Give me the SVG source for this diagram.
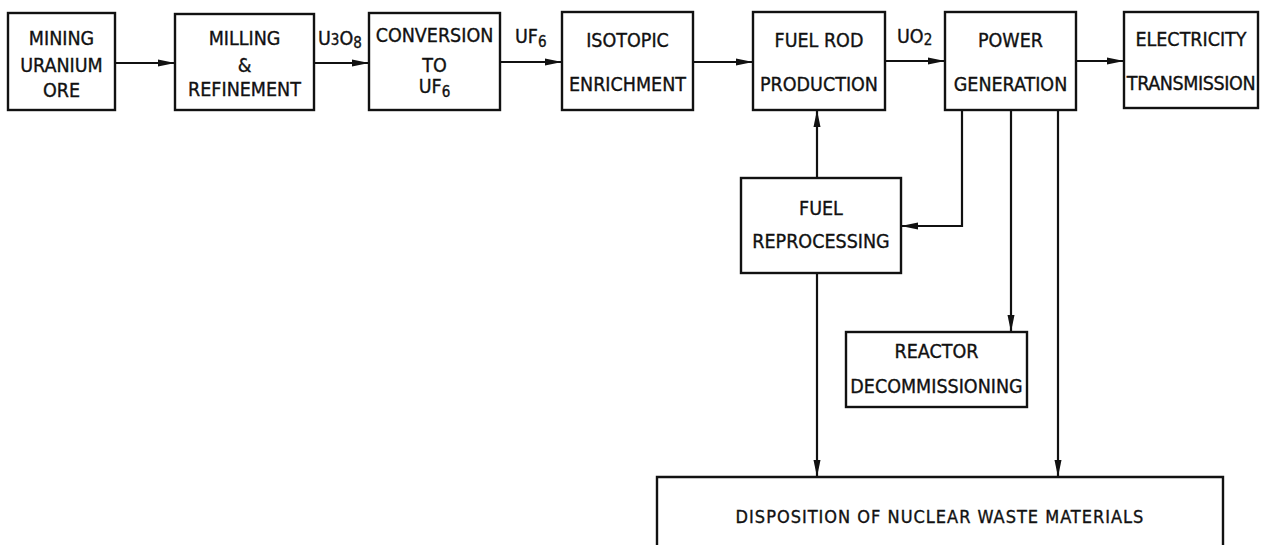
<svg xmlns="http://www.w3.org/2000/svg" width="1264" height="545" viewBox="0 0 1264 545">
<defs>
<marker id="ah" markerUnits="userSpaceOnUse" markerWidth="18" markerHeight="9" refX="17" refY="4.5" orient="auto">
<path d="M0,1 L17,4.5 L0,8 z" fill="#111"/>
</marker>
<style>
.box{fill:#fff;stroke:#111;stroke-width:2.4}
.t{font-family:"DejaVu Sans Condensed","DejaVu Sans",sans-serif;font-stretch:condensed;font-size:19.5px;fill:#111;stroke:#111;stroke-width:0.35;text-anchor:middle}
.l{font-family:"DejaVu Sans Condensed","DejaVu Sans",sans-serif;font-stretch:condensed;font-size:19.5px;fill:#111;stroke:#111;stroke-width:0.35}
.c{fill:none;stroke:#111;stroke-width:2.2}
.s{font-size:15px}
</style>
</defs>
<rect width="1264" height="545" fill="#fff"/>
<g id="connectors">
<path class="c" d="M115,63 H175" marker-end="url(#ah)"/>
<path class="c" d="M314,63 H369" marker-end="url(#ah)"/>
<path class="c" d="M500,62 H562" marker-end="url(#ah)"/>
<path class="c" d="M693,62 H753" marker-end="url(#ah)"/>
<path class="c" d="M885,61 H945" marker-end="url(#ah)"/>
<path class="c" d="M1076,61 H1124" marker-end="url(#ah)"/>
<path class="c" d="M817,178 V110" marker-end="url(#ah)"/>
<path class="c" d="M962,110 V226 H901" marker-end="url(#ah)"/>
<path class="c" d="M1011,110 V332" marker-end="url(#ah)"/>
<path class="c" d="M1058,110 V477" marker-end="url(#ah)"/>
<path class="c" d="M817,273 V477" marker-end="url(#ah)"/>
<text class="l" x="318" y="45">U<tspan class="s">3</tspan>O<tspan class="s" dy="3">8</tspan></text>
<text class="l" x="515" y="43">UF<tspan class="s" dy="4">6</tspan></text>
<text class="l" x="897" y="43">UO<tspan class="s" dy="2">2</tspan></text>
</g>
<g id="mining">
<rect class="box" x="8" y="13" width="107" height="97"/>
<text class="t" x="61.5" y="45">MINING</text>
<text class="t" x="61.5" y="72">URANIUM</text>
<text class="t" x="61.5" y="97">ORE</text>
</g>
<g id="milling">
<rect class="box" x="175" y="14" width="139" height="96"/>
<text class="t" x="244.5" y="45">MILLING</text>
<text class="t" x="244.5" y="72">&amp;</text>
<text class="t" x="244.5" y="96">REFINEMENT</text>
</g>
<g id="conversion">
<rect class="box" x="369" y="13" width="131" height="97"/>
<text class="t" x="434.5" y="42">CONVERSION</text>
<text class="t" x="434.5" y="72">TO</text>
<text class="t" x="434.5" y="93">UF<tspan class="s" dy="4">6</tspan></text>
</g>
<g id="enrichment">
<rect class="box" x="562" y="12" width="131" height="98"/>
<text class="t" x="627.5" y="47">ISOTOPIC</text>
<text class="t" x="627.5" y="91">ENRICHMENT</text>
</g>
<g id="fuelrod">
<rect class="box" x="753" y="12" width="132" height="98"/>
<text class="t" x="819" y="47">FUEL ROD</text>
<text class="t" x="819" y="91">PRODUCTION</text>
</g>
<g id="power">
<rect class="box" x="945" y="12" width="131" height="98"/>
<text class="t" x="1010.5" y="47">POWER</text>
<text class="t" x="1010.5" y="91">GENERATION</text>
</g>
<g id="electricity">
<rect class="box" x="1124" y="12" width="134" height="96"/>
<text class="t" x="1191" y="46">ELECTRICITY</text>
<text class="t" x="1191" y="90" style="letter-spacing:-0.4px">TRANSMISSION</text>
</g>
<g id="reprocessing">
<rect class="box" x="741" y="178" width="160" height="95"/>
<text class="t" x="821" y="215">FUEL</text>
<text class="t" x="821" y="248">REPROCESSING</text>
</g>
<g id="decommissioning">
<rect class="box" x="846" y="332" width="181" height="75"/>
<text class="t" x="936.5" y="358">REACTOR</text>
<text class="t" x="936.5" y="393">DECOMMISSIONING</text>
</g>
<g id="disposition">
<path class="box" d="M657,560 V477 H1223 V560"/>
<text class="t" x="940" y="523" style="font-size:18px;letter-spacing:1px">DISPOSITION OF NUCLEAR WASTE MATERIALS</text>
</g>
</svg>
